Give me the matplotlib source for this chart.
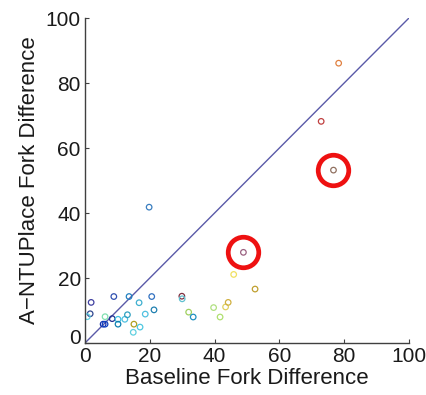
import matplotlib
matplotlib.use("Agg")
import matplotlib.pyplot as plt
from matplotlib.transforms import ScaledTranslation

# Fork difference per design: baseline (x) vs A-NTUPlace (y)
baseline = [19.8, 48.9, 45.9, 52.5, 1.9, 1.6, 0.7, 8.9, 13.6, 20.6, 16.7, 21.3,
            29.9, 30.0, 32.0, 33.4, 39.7, 41.7, 43.4, 44.2, 5.6, 6.2, 8.4, 6.2,
            10.2, 10.2, 12.3, 13.1, 15.1, 14.9, 17.0, 18.6, 78.3, 72.9, 76.7]
antuplace = [41.8, 27.9, 21.1, 16.6, 12.5, 9.0, 8.1, 14.3, 14.3, 14.3, 12.4, 10.2,
             14.4, 13.6, 9.5, 8.0, 10.9, 8.0, 11.1, 12.5, 5.8, 5.8, 7.5, 8.1,
             7.3, 5.8, 7.3, 8.7, 5.8, 3.3, 4.9, 8.9, 86.1, 68.2, 53.2]
point_colors = ['#3a7ec0', '#9a6080', '#f0e060', '#c0a030', '#4040a0', '#304890',
                '#60d0e0', '#3050b0', '#2080c0', '#3070c0', '#40b0d0', '#2080b0',
                '#803040', '#60c0d0', '#a0d060', '#2090c0', '#b0e080', '#b0e070',
                '#e0d060', '#d0b040', '#1030b0', '#1040c0', '#203090', '#80e0b0',
                '#40c0e0', '#1080b0', '#50c0e0', '#30a0c0', '#b0a020', '#60d0e0',
                '#50c8e0', '#50c0e0', '#e08040', '#c04040', '#907060']
highlighted = [1, 34]

ticks = [0, 20, 40, 60, 80, 100]

plt.rcParams['font.family'] = ['Liberation Sans', 'DejaVu Sans']

fig = plt.figure(figsize=(4.26, 3.95), dpi=100)
ax = fig.add_axes([0.1995, 0.1316, 0.7605, 0.8228])

ax.plot([0, 100], [0, 100], color='#5a5aa8', linewidth=1.0, zorder=1)
ax.scatter(baseline, antuplace, s=16, facecolors='none', edgecolors=point_colors,
           linewidths=0.9, zorder=2)
ax.plot([baseline[i] for i in highlighted], [antuplace[i] for i in highlighted],
        linestyle='none', marker='o', markersize=22, markerfacecolor='none',
        markeredgecolor='#ee1111', markeredgewidth=3.4, zorder=3)

ax.set_xlim(0, 100)
ax.set_ylim(0, 100)
ax.set_xticks(ticks)
ax.set_yticks(ticks)
ax.tick_params(direction='in', length=3, width=0.8, color='#404040',
               labelsize=15, labelcolor='#1a1a1a')
ax.tick_params(axis='x', pad=3)
ax.tick_params(axis='y', pad=3)
for side in ('top', 'right'):
    ax.spines[side].set_visible(False)
for side in ('left', 'bottom'):
    ax.spines[side].set_color('#404040')
    ax.spines[side].set_linewidth(1.0)

# lift the y-axis "0" so it sits above the x-axis "0"
ylabels = ax.get_yticklabels()
ylabels[0].set_transform(ylabels[0].get_transform() +
                         ScaledTranslation(0, 5 / 72, fig.dpi_scale_trans))

ax.set_xlabel('Baseline Fork Difference', fontsize=16, color='#1a1a1a', labelpad=1)
ax.set_ylabel('A\u2212NTUPlace Fork Difference', fontsize=16, color='#1a1a1a', labelpad=4)

fig.savefig('out.png', dpi=100, facecolor='white')
